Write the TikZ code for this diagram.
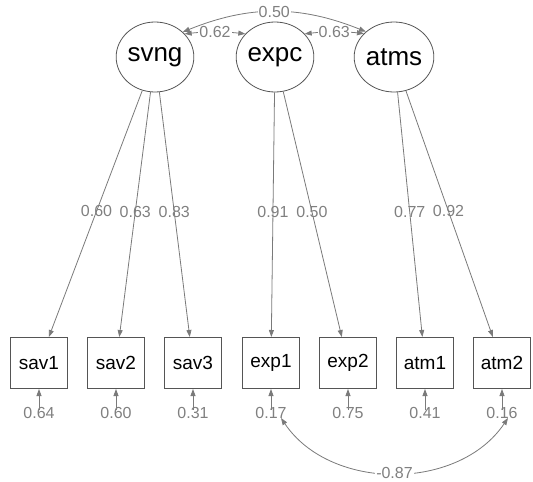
\documentclass[tikz,border=0pt]{standalone}
\usepackage{fontspec}
\setmainfont{Liberation Sans}
\usetikzlibrary{shapes.geometric,arrows.meta}
\definecolor{edgegray}{HTML}{808080}
\definecolor{linegray}{HTML}{7A7A7A}
\definecolor{framegray}{HTML}{555555}
\tikzset{
  latent/.style={ellipse,draw=framegray,line width=0.8pt,minimum width=76pt,minimum height=70pt,inner sep=0pt,font=\fontsize{26}{28}\selectfont},
  manifest/.style={rectangle,draw=framegray,line width=1pt,minimum width=57pt,minimum height=51pt,inner sep=0pt,font=\fontsize{19}{21}\selectfont},
  edgelab/.style={text=edgegray,font=\fontsize{16}{18}\selectfont,inner sep=0pt},
  covlab/.style={edgelab,fill=white,inner sep=1pt},
  tip/.style={-{Triangle[length=7pt,width=5pt]}},
  bitip/.style={{Triangle[length=7pt,width=5pt]}-{Triangle[length=7pt,width=5pt]}},
  conn/.style={draw=linegray,line width=0.8pt}
}
\begin{document}
\begin{tikzpicture}[x=1pt,y=1pt]
\useasboundingbox (0,0) rectangle (533,-482);
% latent variables
\node[latent] (svng) at (155,-57) {svng};
\node[latent] (expc) at (275,-57) {expc};
\node[latent] (atms) at (394,-57) {atms};
% manifest variables
\node[manifest] (sav1) at (39,-363) {sav1};
\node[manifest] (sav2) at (116,-363) {sav2};
\node[manifest] (sav3) at (193,-363) {sav3};
\node[manifest] (exp1) at (271,-363) {exp1};
\node[manifest] (exp2) at (348,-363) {exp2};
\node[manifest] (atm1) at (425,-363) {atm1};
\node[manifest] (atm2) at (502,-363) {atm2};
% loadings
\draw[conn,tip] (svng) -- node[edgelab,pos=0.49]{0.60} (sav1);
\draw[conn,tip] (svng) -- node[edgelab,pos=0.49]{0.63} (sav2);
\draw[conn,tip] (svng) -- node[edgelab,pos=0.49]{0.83} (sav3);
\draw[conn,tip] (expc) -- node[edgelab,pos=0.49]{0.91} (exp1);
\draw[conn,tip] (expc) -- node[edgelab,pos=0.49]{0.50} (exp2);
\draw[conn,tip] (atms) -- node[edgelab,pos=0.49]{0.77} (atm1);
\draw[conn,tip] (atms) -- node[edgelab,pos=0.49]{0.92} (atm2);
% residuals
\foreach \n/\x/\v in {sav1/39/0.64,sav2/116/0.60,sav3/193/0.31,exp1/271/0.17,exp2/348/0.75,atm1/425/0.41,atm2/502/0.16}{
  \coordinate (r\n) at (\x,-410);
  \draw[conn,tip] (r\n) -- (\n);
  \node[edgelab] (l\n) at (\x,-413) {\v};
}
% covariances among latents
\draw[conn,bitip] (svng.38) to[bend left=6] node[covlab]{0.62} (expc.142);
\draw[conn,bitip] (expc.38) to[bend left=6] node[covlab]{0.63} (atms.142);
\draw[conn,bitip] (svng.42) to[bend left=22] node[covlab]{0.50} (atms.138);
% residual covariance
\coordinate (c1) at (281,-418);
\coordinate (c2) at (508,-418);
\draw[conn,bitip] (c1) to[bend right=56] node[covlab]{-0.87} (c2);
\end{tikzpicture}
\end{document}
